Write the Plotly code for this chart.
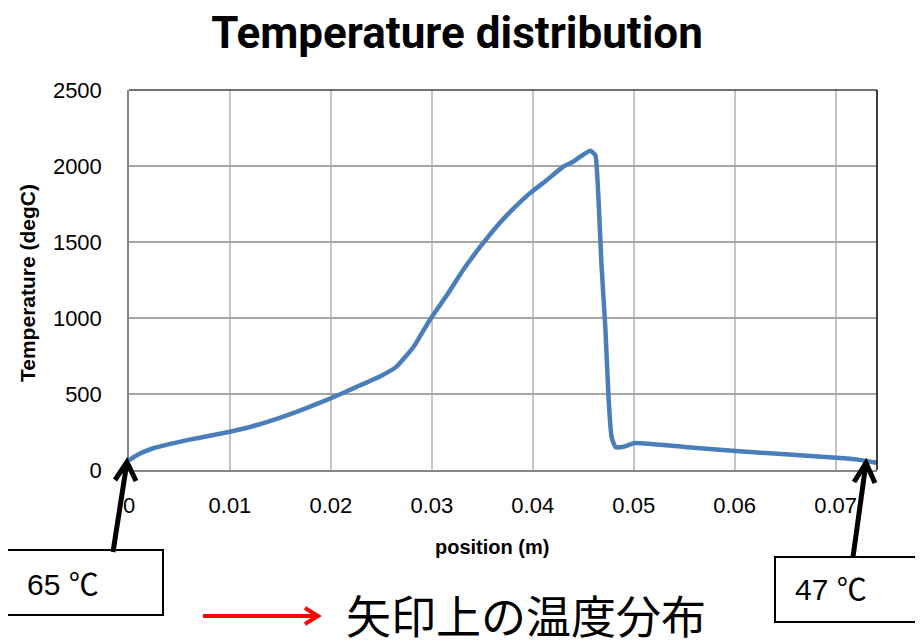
import plotly.graph_objects as go

# Data
position_m = [0.0000, 0.0010, 0.0024, 0.0040, 0.0060, 0.0080, 0.0100, 0.0125, 0.0150,
              0.0175, 0.0200, 0.0225, 0.0250, 0.0265, 0.0282, 0.0298, 0.0315, 0.0331,
              0.0348, 0.0364, 0.0381, 0.0397, 0.0414, 0.0430, 0.0440, 0.0447, 0.0457,
              0.0462, 0.0465, 0.0468, 0.0472, 0.0475, 0.0478, 0.0482, 0.0490, 0.0501,
              0.0550, 0.0601, 0.0650, 0.0701, 0.0721, 0.0731, 0.0741]
temperature_c = [65, 105, 143, 170, 200, 225, 252, 293, 345,
                 405, 472, 545, 620, 680, 811, 987, 1151, 1316,
                 1469, 1601, 1721, 1820, 1908, 1995, 2028, 2061, 2100,
                 2070, 1798, 1360, 921, 482, 219, 150, 153, 178,
                 152, 125, 103, 81, 70, 58, 47]

x_ticks = [0, 0.01, 0.02, 0.03, 0.04, 0.05, 0.06, 0.07]
x_tick_labels = ["0", "0.01", "0.02", "0.03", "0.04", "0.05", "0.06", "0.07"]
y_ticks = [0, 500, 1000, 1500, 2000, 2500]
y_tick_labels = ["0", "500", "1000", "1500", "2000", "2500"]

left_label = "65 \u2103"
right_label = "47 \u2103"
caption = "矢印上の温度分布"

OFF = 8  # page body margin
W, H = 923 - OFF, 643 - OFF
L, R, T, B = 129, 877, 90, 470  # plot area in window pixels


def px(xp):
    return (xp - L) / (R - L)


def py(yp):
    return (B - yp) / (B - T)


fig = go.Figure()
fig.add_trace(go.Scatter(x=position_m, y=temperature_c, mode="lines",
                         line=dict(color="#4A7EBB", width=4.5, shape="spline", smoothing=0.4),
                         showlegend=False, hoverinfo="x+y"))

font_main = "Liberation Sans, Arial, sans-serif"

fig.update_layout(
    width=W, height=H,
    margin=dict(l=L - OFF, r=W - (R - OFF), t=T - OFF, b=H - (B - OFF), pad=0),
    paper_bgcolor="white", plot_bgcolor="white",
    title=dict(text="<b>Temperature distribution</b>", x=(457 - OFF) / W, xanchor="center",
               y=1 - (33 - OFF) / H, yanchor="middle",
               font=dict(family="Roboto, Open Sans, sans-serif", size=44, color="black")),
    xaxis=dict(range=[0, 0.0741], tickvals=x_ticks, ticktext=x_tick_labels,
               showgrid=True, gridcolor="#C4C4C4", gridwidth=1.5,
               showline=True, linecolor="#868686", linewidth=1.5,
               ticks="", ticklabelstandoff=15, zeroline=False,
               tickfont=dict(family=font_main, size=22, color="black")),
    yaxis=dict(range=[0, 2500], tickvals=y_ticks, ticktext=y_tick_labels,
               showgrid=True, gridcolor="#A6A6A6", gridwidth=1.5,
               showline=True, linecolor="#868686", linewidth=1.5,
               ticks="", ticklabelstandoff=21, zeroline=False,
               tickfont=dict(family=font_main, size=22, color="black")),
)

shapes = []
# top and right border of plot area
shapes.append(dict(type="line", xref="paper", yref="paper", x0=0, x1=1, y0=1, y1=1,
                   line=dict(color="#404040", width=1.5)))
shapes.append(dict(type="line", xref="paper", yref="paper", x0=1, x1=1, y0=0, y1=1,
                   line=dict(color="black", width=1.5)))

# label boxes
shapes.append(dict(type="rect", xref="paper", yref="paper", x0=px(7), x1=px(163),
                   y0=py(615), y1=py(550), line=dict(color="black", width=2),
                   fillcolor="white", layer="above"))
shapes.append(dict(type="rect", xref="paper", yref="paper", x0=px(775), x1=px(940),
                   y0=py(622), y1=py(557), line=dict(color="black", width=2),
                   fillcolor="white", layer="above"))


def arrow(tail, tip, arm1, arm2, color, width):
    shapes.append(dict(type="line", xref="paper", yref="paper",
                       x0=px(tail[0]), y0=py(tail[1]), x1=px(tip[0]), y1=py(tip[1]),
                       line=dict(color=color, width=width), layer="above"))
    path = "M {:.5f},{:.5f} L {:.5f},{:.5f} L {:.5f},{:.5f}".format(
        px(arm1[0]), py(arm1[1]), px(tip[0]), py(tip[1]), px(arm2[0]), py(arm2[1]))
    shapes.append(dict(type="path", xref="paper", yref="paper", path=path,
                       line=dict(color=color, width=width), layer="above"))


arrow((113, 552), (127, 462), (115, 480), (136, 481), "black", 5)
arrow((853, 557), (866, 463), (854, 482), (875, 483), "black", 5)
arrow((203, 616), (318, 616), (305, 608), (305, 624), "#FF0000", 4)

fig.update_layout(shapes=shapes)

box_font = "Liberation Sans, Noto Sans CJK JP, sans-serif"
annotations = [
    dict(text="<b>Temperature (degC)</b>", xref="paper", yref="paper",
         x=px(27), y=py(283), textangle=-90, showarrow=False,
         xanchor="center", yanchor="middle",
         font=dict(family=font_main, size=21, color="black")),
    dict(text="<b>position (m)</b>", xref="paper", yref="paper",
         x=px(492), y=py(547), showarrow=False, xanchor="center", yanchor="middle",
         font=dict(family=font_main, size=20, color="black")),
    dict(text=left_label, xref="paper", yref="paper", x=px(25), y=py(584),
         showarrow=False, xanchor="left", yanchor="middle",
         font=dict(family=box_font, size=30, color="black")),
    dict(text=right_label, xref="paper", yref="paper", x=px(793), y=py(589),
         showarrow=False, xanchor="left", yanchor="middle",
         font=dict(family=box_font, size=30, color="black")),
    dict(text=caption, xref="paper", yref="paper", x=px(344), y=py(614),
         showarrow=False, xanchor="left", yanchor="middle",
         font=dict(family="Noto Sans CJK JP, sans-serif", size=45, color="black")),
]
fig.update_layout(annotations=annotations)

fig.write_html("out.html")
